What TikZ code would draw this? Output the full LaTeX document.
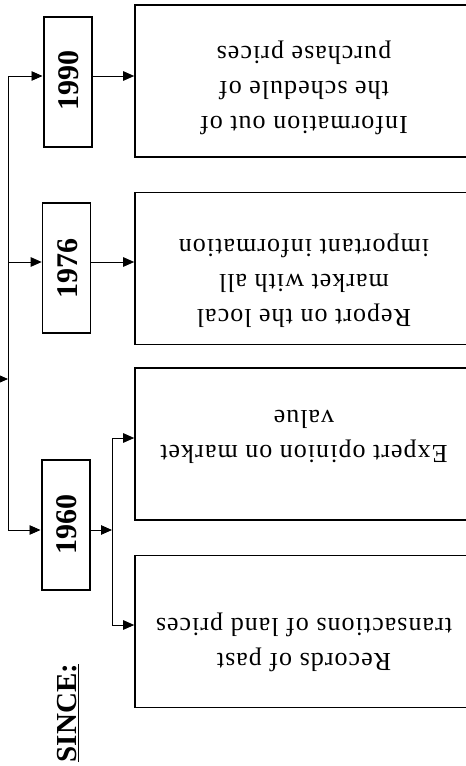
\documentclass[tikz,border=0pt]{standalone}
\usepackage{fontspec}
\setmainfont{Liberation Serif}
\newfontfamily\boxfont{Liberation Serif}[LetterSpace=4]
\usetikzlibrary{arrows.meta}
\begin{document}
\begin{tikzpicture}[x=1pt,y=-1pt,
  yearbox/.style={draw,line width=2pt,minimum width=48pt,minimum height=130pt,inner sep=0pt},
  bigbox/.style={draw,line width=1.6pt,minimum width=338pt,minimum height=152pt,inner sep=0pt},
  yeartext/.style={rotate=90,font=\fontsize{30}{32}\selectfont\bfseries},
  boxtext/.style={rotate=180,align=center,inner sep=0pt,font=\boxfont\fontsize{26}{35}\selectfont},
  conn/.style={line width=0.9pt},
  arr/.style={conn,-{Triangle[length=11pt,width=9.5pt]}}]
\clip (0,0) rectangle (466,766);
\fill[white] (0,0) rectangle (466,766);
% year boxes
\node[yearbox] (y1990) at (67.5,81.5) {};
\node[yeartext] (t1990) at (69,80) {1990};
\node[yearbox,line width=1.6pt] (y1976) at (66.5,268) {};
\node[yeartext] (t1976) at (68,268) {1976};
\node[yearbox] (y1960) at (65.5,525) {};
\node[yeartext] (t1960) at (67,524) {1960};
% big boxes
\node[bigbox] (b1) at (304,81) {};
\node[bigbox] (b2) at (304,268.5) {};
\node[bigbox] (b3) at (304,444) {};
\node[bigbox] (b4) at (304,631.5) {};
\node[boxtext] (x1) at (304,88) {Information out of\\the schedule of\\purchase prices};
\node[boxtext] (x2) at (304,281) {Report on the local\\market with all\\important information};
\node[boxtext] (x3) at (304,437) {Expert opinion on market\\value};
\node[boxtext] (x4) at (304,642) {Records of past\\transactions of land prices};
% SINCE
\node[rotate=90,font=\fontsize{29}{31}\selectfont\bfseries] (since) at (68,713) {\underline{SINCE:}};
% connectors
\coordinate (ta) at (8,76);
\coordinate (tb) at (8,530);
\coordinate (tin) at (-6,379);
\coordinate (tm) at (8,379);
\coordinate (sa) at (112,438);
\coordinate (sb) at (112,625);
\coordinate (sm) at (112,530);
\draw[conn] (ta) -- (tb);
\draw[arr] (tin) -- (tm);
\draw[arr] (ta) -- (ta -| y1990.west);
\draw[arr] (8,262) coordinate (tc) -- (tc -| y1976.west);
\draw[arr] (tb) -- (tb -| y1960.west);
\draw[arr] (ta -| y1990.east) -- (ta -| b1.west);
\draw[arr] (tc -| y1976.east) -- (tc -| b2.west);
\draw[arr] (tb -| y1960.east) -- (sm);
\draw[conn] (sa) -- (sb);
\draw[arr] (sa) -- (sa -| b3.west);
\draw[arr] (sb) -- (sb -| b4.west);
\end{tikzpicture}
\end{document}
